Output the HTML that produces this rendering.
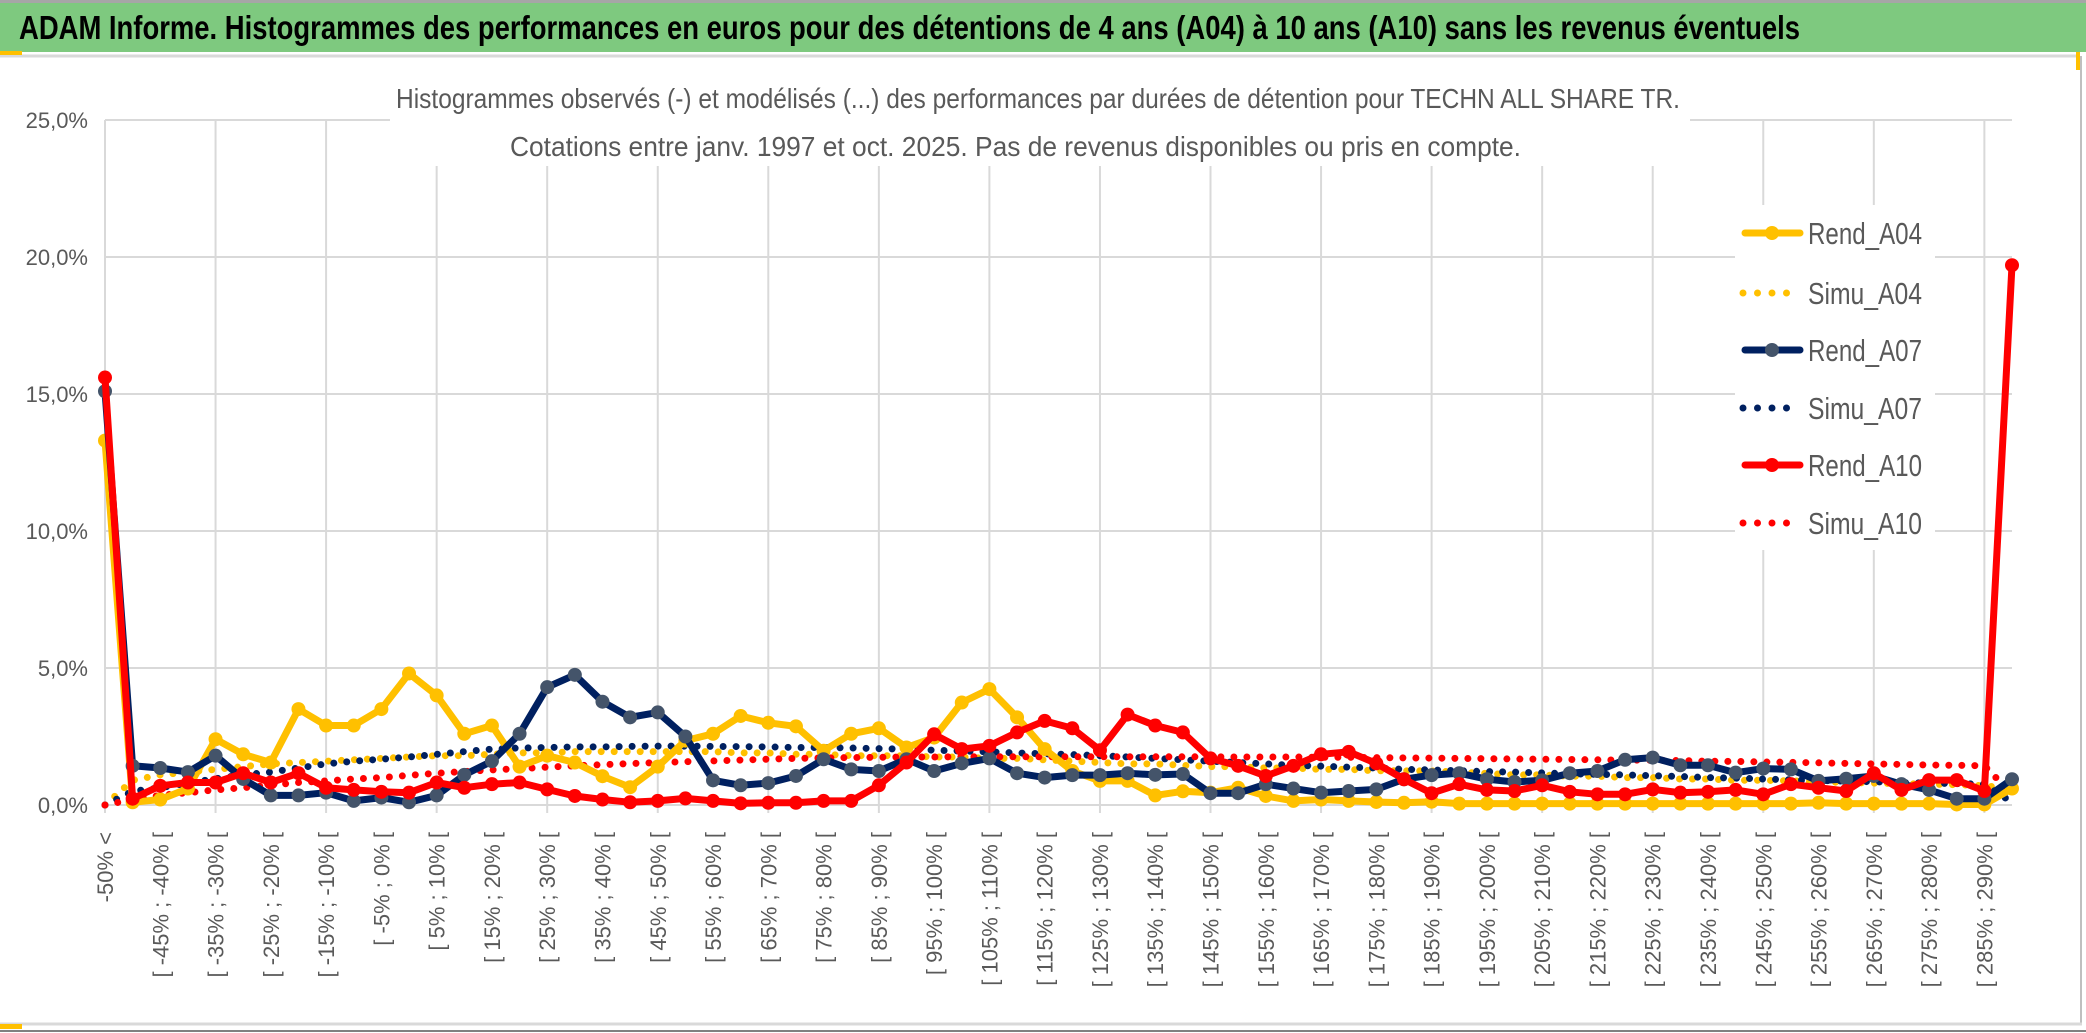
<!DOCTYPE html>
<html><head><meta charset="utf-8"><style>
html,body{margin:0;padding:0;background:#fff;}
svg{display:block;font-family:"Liberation Sans",sans-serif;}
</style></head><body>
<svg id="chart" width="2086" height="1033" viewBox="0 0 2086 1033" xmlns="http://www.w3.org/2000/svg">
<rect x="0" y="0" width="2086" height="1033" fill="#fff"/>
<line x1="0" y1="1.5" x2="2086" y2="1.5" stroke="#a6a6a6" stroke-width="3"/>
<rect x="0" y="3" width="2086" height="49" fill="#7ec97f"/>
<text x="19" y="39" font-size="33" font-weight="bold" fill="#000" textLength="1781" lengthAdjust="spacingAndGlyphs">ADAM Informe. Histogrammes des performances en euros pour des détentions de 4 ans (A04) à 10 ans (A10) sans les revenus éventuels</text>
<line x1="0" y1="56" x2="2080" y2="56" stroke="#d9d9d9" stroke-width="3"/>
<rect x="0" y="51" width="22" height="4" fill="#ffc000"/>
<rect x="2076" y="52" width="4" height="18" fill="#ffc000"/>
<line x1="2081" y1="56" x2="2081" y2="1024" stroke="#bfbfbf" stroke-width="2"/>
<line x1="0" y1="1024" x2="2082" y2="1024" stroke="#d9d9d9" stroke-width="3"/>
<line x1="0" y1="1031" x2="2086" y2="1031" stroke="#808080" stroke-width="2"/>
<rect x="0" y="1024" width="22" height="5" fill="#ffc000"/>
<g id="grid"></g>
<rect x="390" y="70" width="1300" height="96" fill="#fff"/>
<text x="396" y="108" font-size="28" fill="#595959" textLength="1284" lengthAdjust="spacingAndGlyphs">Histogrammes observés (-) et modélisés (...) des performances par durées de détention pour TECHN ALL SHARE TR.</text>
<text x="510" y="156" font-size="28" fill="#595959" textLength="1011" lengthAdjust="spacingAndGlyphs">Cotations entre janv. 1997 et oct. 2025. Pas de revenus disponibles ou pris en compte.</text>
<g id="yaxis"></g>
<g id="xaxis"></g>
<g id="series"></g>
<g id="legend"></g>
</svg>
<script>
const categories = (function(){const c=["-50% <"];for(let i=1;i<69;i++){const lo=-50+5*(i-1);c.push("[ "+lo+"% ; "+(lo+5)+"% [");}c.push("> 290%");return c;})();
const yTicks = [0,5,10,15,20,25];
const yTickLabels = ["0,0%","5,0%","10,0%","15,0%","20,0%","25,0%"];
const rendA04 = [13.3,0.1,0.2,0.6,2.4,1.85,1.55,3.5,2.9,2.9,
3.5,4.8,4.0,2.6,2.9,1.4,1.8,1.55,1.05,0.65,
1.4,2.35,2.6,3.25,3.0,2.87,1.98,2.6,2.8,2.1,
2.46,3.74,4.23,3.2,2.04,1.24,0.88,0.88,0.35,0.5,
0.45,0.63,0.33,0.15,0.2,0.15,0.11,0.08,0.12,0.05,
0.05,0.05,0.05,0.05,0.05,0.05,0.05,0.05,0.05,0.05,
0.05,0.05,0.08,0.05,0.05,0.05,0.05,0.02,0.02,0.6];
const simuA04 = [0.0,0.9,1.1,1.2,1.3,1.4,1.5,1.55,1.6,1.65,
1.7,1.75,1.8,1.8,1.85,1.9,1.9,1.95,1.95,1.95,
1.95,1.95,1.95,1.9,1.9,1.85,1.85,1.8,1.8,1.8,
1.75,1.75,1.7,1.7,1.65,1.6,1.55,1.5,1.5,1.45,
1.4,1.4,1.35,1.35,1.3,1.3,1.25,1.25,1.24,1.2,
1.15,1.1,1.1,1.05,1.05,1.0,1.0,0.95,0.95,0.9,
0.9,0.88,0.85,0.82,0.8,0.78,0.76,0.74,0.7,0.6];
const rendA07 = [15.1,1.43,1.35,1.2,1.8,0.95,0.35,0.35,0.45,0.15,
0.27,0.1,0.35,1.1,1.6,2.6,4.3,4.75,3.77,3.2,
3.38,2.5,0.9,0.72,0.8,1.06,1.67,1.3,1.24,1.67,
1.24,1.52,1.7,1.16,1.0,1.09,1.09,1.16,1.1,1.13,
0.43,0.43,0.76,0.6,0.45,0.51,0.57,0.94,1.09,1.16,
0.94,0.84,0.9,1.16,1.24,1.65,1.73,1.45,1.45,1.18,
1.33,1.3,0.88,0.96,1.06,0.76,0.55,0.23,0.23,0.94];
const simuA07 = [0.0,0.5,0.63,0.8,0.96,1.1,1.2,1.35,1.5,1.6,
1.67,1.75,1.85,1.95,2.04,2.08,2.1,2.12,2.12,2.14,
2.15,2.15,2.14,2.13,2.12,2.1,2.1,2.08,2.06,2.04,
2.0,1.97,1.94,1.9,1.87,1.84,1.8,1.75,1.7,1.65,
1.6,1.55,1.5,1.45,1.42,1.38,1.35,1.3,1.28,1.25,
1.22,1.2,1.17,1.14,1.12,1.1,1.07,1.04,1.0,0.98,
0.95,0.92,0.9,0.87,0.85,0.82,0.8,0.78,0.76,0.1];
const rendA10 = [15.6,0.23,0.7,0.82,0.82,1.16,0.82,1.16,0.63,0.55,
0.48,0.45,0.82,0.63,0.76,0.82,0.57,0.33,0.2,0.1,
0.15,0.24,0.15,0.06,0.08,0.08,0.15,0.15,0.72,1.55,
2.58,2.04,2.16,2.65,3.07,2.8,2.0,3.3,2.9,2.65,
1.7,1.43,1.06,1.43,1.85,1.94,1.52,0.94,0.43,0.76,
0.55,0.51,0.72,0.48,0.39,0.39,0.57,0.45,0.48,0.55,
0.39,0.76,0.63,0.51,1.16,0.55,0.91,0.91,0.51,19.7];
const simuA10 = [0.0,0.2,0.35,0.45,0.55,0.63,0.72,0.82,0.88,0.95,
1.0,1.08,1.16,1.22,1.28,1.33,1.38,1.43,1.47,1.51,
1.55,1.58,1.61,1.64,1.67,1.7,1.72,1.73,1.74,1.75,
1.75,1.76,1.76,1.76,1.76,1.76,1.76,1.76,1.76,1.76,
1.76,1.75,1.75,1.75,1.74,1.74,1.73,1.72,1.71,1.7,
1.69,1.68,1.67,1.66,1.65,1.64,1.63,1.62,1.6,1.59,
1.57,1.56,1.54,1.52,1.5,1.48,1.46,1.45,1.43,0.4];
const seriesNames = ["Rend_A04","Simu_A04","Rend_A07","Simu_A07","Rend_A10","Simu_A10"];

const NS="http://www.w3.org/2000/svg";
const X0=105, X1=2012, Y0=805, YTOP=120, YMAX=25;
function xs(i){return X0+(X1-X0)*i/(categories.length-1);}
function ys(v){return Y0-(Y0-YTOP)*v/YMAX;}
function mk(tag,attrs,parent){const e=document.createElementNS(NS,tag);for(const k in attrs)e.setAttribute(k,attrs[k]);parent.appendChild(e);return e;}

const grid=document.getElementById('grid');
yTicks.forEach(function(t){
  const l=mk('line',{x1:X0,x2:X1,y1:ys(t),y2:ys(t),stroke:'#d9d9d9','stroke-width':2},grid);
  
  
});
for(let i=0;i<categories.length;i+=4){
  const l=mk('line',{x1:xs(i),x2:xs(i),y1:YTOP,y2:Y0+8,stroke:'#d9d9d9','stroke-width':2},grid);
  
  
}
const ya=document.getElementById('yaxis');
yTicks.forEach(function(t,k){
  const tx=mk('text',{x:88,y:ys(t)+8,'text-anchor':'end','font-size':22,fill:'#595959'},ya);
  tx.textContent=yTickLabels[k];
  
  
});
const xa=document.getElementById('xaxis');
for(let i=0;i<categories.length;i+=2){
  const x=xs(i)+8;
  const tx=mk('text',{x:0,y:0,'text-anchor':'end','font-size':22,fill:'#595959',transform:'translate('+x+',832) rotate(-90)'},xa);
  tx.textContent=categories[i];
  
  
}
const sg=document.getElementById('series');
function pts(arr){return arr.map(function(v,i){return xs(i).toFixed(1)+','+ys(v).toFixed(1);}).join(' ');}
function dotted(arr,color,name){
  const p=mk('polyline',{points:pts(arr),fill:'none',stroke:color,'stroke-width':7,'stroke-linecap':'round','stroke-dasharray':'0 13'},sg);
  
  
}
function solid(arr,color,mcolor,name){
  const p=mk('polyline',{points:pts(arr),fill:'none',stroke:color,'stroke-width':7,'stroke-linejoin':'round'},sg);
  
  
  arr.forEach(function(v,i){
    const c=mk('circle',{cx:xs(i),cy:ys(v),r:7,fill:mcolor},sg);
    
    
  });
}
dotted(simuA04,'#ffc000','simu-a04-line');
dotted(simuA07,'#002060','simu-a07-line');
dotted(simuA10,'#ff0000','simu-a10-line');
solid(rendA04,'#ffc000','#ffc000','rend-a04-line');
solid(rendA07,'#002060','#44546a','rend-a07-line');
solid(rendA10,'#ff0000','#ff0000','rend-a10-line');

const lg=document.getElementById('legend');
const bg=mk('rect',{x:1735,y:205,width:200,height:345,fill:'#fff'},lg);


const legY=[233,293,350,408,465,523];
const legC=['#ffc000','#ffc000','#002060','#002060','#ff0000','#ff0000'];
const legM=['#ffc000',null,'#44546a',null,'#ff0000',null];
seriesNames.forEach(function(n,k){
  const y=legY[k];
  let l;
  if(legM[k]){
    l=mk('line',{x1:1745,x2:1800,y1:y,y2:y,stroke:legC[k],'stroke-width':7,'stroke-linecap':'round'},lg);
    const c=mk('circle',{cx:1772,cy:y,r:7,fill:legM[k]},lg);
    
    
  } else {
    l=mk('line',{x1:1743,x2:1800,y1:y,y2:y,stroke:legC[k],'stroke-width':7,'stroke-linecap':'round','stroke-dasharray':'0 14.5'},lg);
  }
  
  
  const t=mk('text',{x:1808,y:y+11,'font-size':31,fill:'#595959',textLength:114,lengthAdjust:'spacingAndGlyphs'},lg);
  t.textContent=n;
  
  
});
</script>
</body></html>
